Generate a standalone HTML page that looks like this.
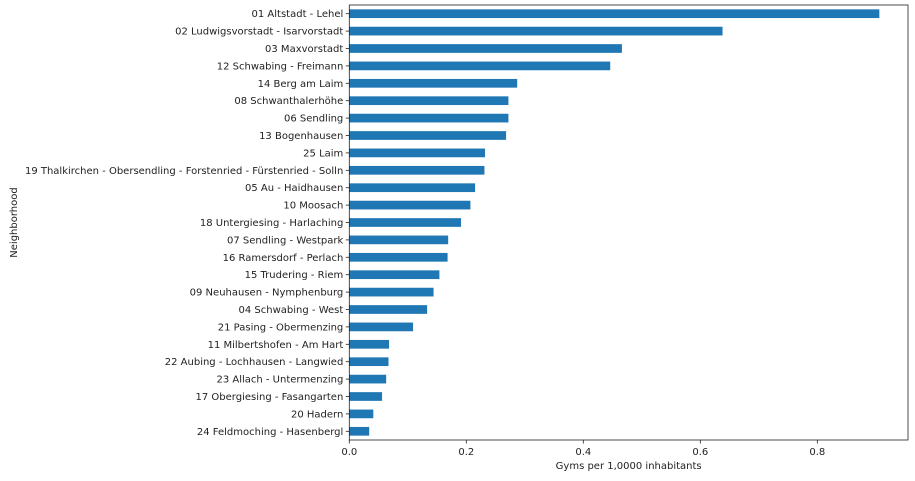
<!DOCTYPE html>
<html><head><meta charset="utf-8"><style>
body{margin:0;background:#fff;}
svg text{font-family:"DejaVu Sans","Liberation Sans",sans-serif;font-size:10px;fill:#222;}
</style></head><body>
<svg id="chart" width="915" height="476" xmlns="http://www.w3.org/2000/svg"></svg>
<script>
const categories=["01 Altstadt - Lehel","02 Ludwigsvorstadt - Isarvorstadt","03 Maxvorstadt","12 Schwabing - Freimann","14 Berg am Laim","08 Schwanthalerhöhe","06 Sendling","13 Bogenhausen","25 Laim","19 Thalkirchen - Obersendling - Forstenried - Fürstenried - Solln","05 Au - Haidhausen","10 Moosach","18 Untergiesing - Harlaching","07 Sendling - Westpark","16 Ramersdorf - Perlach","15 Trudering - Riem","09 Neuhausen - Nymphenburg","04 Schwabing - West","21 Pasing - Obermenzing","11 Milbertshofen - Am Hart","22 Aubing - Lochhausen - Langwied","23 Allach - Untermenzing","17 Obergiesing - Fasangarten","20 Hadern","24 Feldmoching - Hasenbergl"];
const values=[0.906,0.638,0.466,0.446,0.287,0.272,0.272,0.268,0.232,0.231,0.215,0.207,0.191,0.169,0.168,0.154,0.144,0.133,0.109,0.068,0.067,0.063,0.056,0.041,0.034];
const xTicks=[0,0.2,0.4,0.6,0.8];
const xTickLabels=["0.0","0.2","0.4","0.6","0.8"];
const NS="http://www.w3.org/2000/svg";
const svg=document.getElementById('chart');
const L=349.3,R=908,T=5,B=440,XMAX=0.955;
const x=v=>L+v/XMAX*(R-L);
const step=(B-T)/categories.length;
const y=i=>T+step*(i+0.5);
function mk(t,a){const e=document.createElementNS(NS,t);for(const k in a)e.setAttribute(k,a[k]);svg.appendChild(e);return e;}
values.forEach((v,i)=>{
 const r=mk('rect',{x:L,y:y(i)-step*0.25,width:x(v)-L,height:step*0.5,fill:'#1f77b4'});
 
 
 const tk=mk('line',{x1:L-3.5,x2:L,y1:y(i),y2:y(i),stroke:'#222','stroke-width':0.8});
 
 
 const t=mk('text',{x:L-6,y:y(i)+3.5,'text-anchor':'end'});
 t.textContent=categories[i];
 
 
});
xTicks.forEach((v,i)=>{
 const tk=mk('line',{x1:x(v),x2:x(v),y1:B,y2:B+3.5,stroke:'#222','stroke-width':0.8});
 
 
 const t=mk('text',{x:x(v),y:B+15,'text-anchor':'middle'});
 t.textContent=xTickLabels[i];
 
 
});
const f=mk('rect',{x:L,y:T,width:R-L,height:B-T,fill:'none',stroke:'#222','stroke-width':0.8});


const xl=mk('text',{x:(L+R)/2,y:469,'text-anchor':'middle'});
xl.textContent='Gyms per 1,0000 inhabitants';


const yl=mk('text',{x:0,y:0,'text-anchor':'middle',transform:'translate(17,'+((T+B)/2)+') rotate(-90)'});
yl.textContent='Neighborhood';


</script>
</body></html>
